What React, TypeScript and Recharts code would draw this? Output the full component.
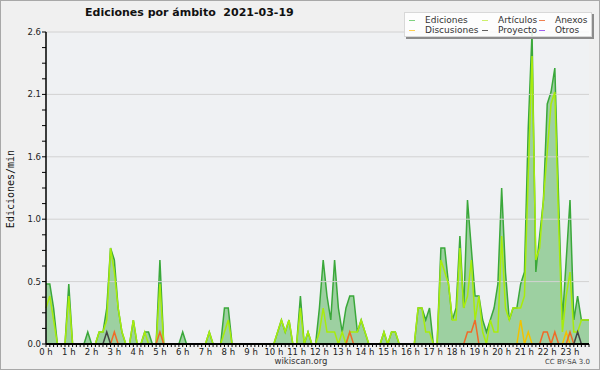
import React from 'react';
import { ComposedChart, Area, Line, XAxis, YAxis, ReferenceLine, CartesianGrid } from 'recharts';

// 10-minute slots, values in edits per minute
const hours = ['0', '1', '2', '3', '4', '5', '6', '7', '8', '9', '10', '11', '12', '13', '14', '15', '16', '17', '18', '19', '20', '21', '22', '23'];
const minutes = ['00', '10', '20', '30', '40', '50'];

const ediciones = [
  0.5, 0.5, 0.3, 0, 0, 0,
  0.5, 0, 0, 0, 0, 0.1,
  0, 0, 0.1, 0.1, 0.3, 0.8,
  0.7, 0.3, 0.1, 0, 0, 0.2,
  0, 0, 0.1, 0.1, 0, 0,
  0.7, 0, 0, 0, 0, 0,
  0.1, 0, 0, 0, 0, 0,
  0, 0.1, 0, 0, 0, 0.3,
  0.3, 0, 0, 0, 0, 0,
  0, 0, 0, 0, 0, 0,
  0, 0.1, 0.2, 0.1, 0.2, 0,
  0, 0.4, 0, 0.1, 0, 0,
  0.3, 0.7, 0.4, 0.2, 0.7, 0.3,
  0.1, 0.3, 0.4, 0.4, 0.1, 0.2,
  0.1, 0, 0, 0, 0, 0.1,
  0, 0.1, 0.1, 0, 0, 0,
  0, 0, 0.3, 0.3, 0.2, 0.3,
  0, 0, 0.8, 0.8, 0.5, 0.2,
  0.3, 0.9, 0.3, 1.2, 0.8, 0.4,
  0.4, 0.2, 0.1, 0.2, 0.3, 0.5,
  1.3, 0.6, 0.2, 0.3, 0.3, 0.5,
  0.6, 1.8, 2.6, 0.6, 0.9, 1.2,
  2.0, 2.1, 2.3, 1.2, 0.2, 0.7,
  1.2, 0.2, 0.4, 0.2, 0.2, 0.2,
];

const articulos = [
  0.3, 0.4, 0.2, 0, 0, 0,
  0.4, 0, 0, 0, 0, 0,
  0, 0, 0.1, 0.1, 0.2, 0.8,
  0.6, 0.3, 0.1, 0, 0, 0.2,
  0, 0, 0.1, 0, 0, 0,
  0.5, 0, 0, 0, 0, 0,
  0, 0, 0, 0, 0, 0,
  0, 0.1, 0, 0, 0, 0.1,
  0.2, 0, 0, 0, 0, 0,
  0, 0, 0, 0, 0, 0,
  0, 0.1, 0.2, 0.1, 0.2, 0,
  0, 0.3, 0, 0.1, 0, 0,
  0.1, 0.3, 0.1, 0.1, 0.1, 0,
  0.1, 0, 0.1, 0.1, 0.1, 0.2,
  0.1, 0, 0, 0, 0, 0.1,
  0, 0.1, 0.1, 0, 0, 0,
  0, 0, 0.3, 0.3, 0.1, 0.1,
  0, 0, 0.7, 0.6, 0.5, 0.2,
  0.2, 0.8, 0.3, 0.4, 0.7, 0.2,
  0.4, 0.1, 0, 0.2, 0.1, 0.1,
  0.9, 0.3, 0.2, 0.3, 0.3, 0.3,
  0.4, 1.4, 2.4, 0.7, 0.8, 1.2,
  1.6, 2.0, 2.1, 1.0, 0.1, 0.4,
  0.6, 0.1, 0.1, 0.2, 0.2, 0.2,
];

const anexos = [
  0, 0, 0, 0, 0, 0,
  0, 0, 0, 0, 0, 0,
  0, 0, 0, 0, 0, 0,
  0.1, 0, 0, 0, 0, 0,
  0, 0, 0, 0, 0, 0,
  0.1, 0, 0, 0, 0, 0,
  0, 0, 0, 0, 0, 0,
  0, 0, 0, 0, 0, 0,
  0, 0, 0, 0, 0, 0,
  0, 0, 0, 0, 0, 0,
  0, 0, 0, 0, 0, 0,
  0, 0, 0, 0, 0, 0,
  0, 0, 0, 0, 0, 0,
  0, 0, 0.1, 0, 0, 0,
  0, 0, 0, 0, 0, 0,
  0, 0, 0, 0, 0, 0,
  0, 0, 0, 0, 0, 0,
  0, 0, 0, 0, 0, 0,
  0, 0, 0, 0.1, 0.1, 0.2,
  0, 0, 0, 0, 0, 0,
  0, 0, 0, 0, 0, 0,
  0, 0, 0, 0, 0, 0.1,
  0.1, 0, 0.1, 0, 0, 0,
  0.1, 0, 0, 0, 0, 0,
];

const discusiones = [
  0, 0, 0, 0, 0, 0,
  0, 0, 0, 0, 0, 0,
  0, 0, 0, 0, 0, 0,
  0, 0, 0, 0, 0, 0,
  0, 0, 0, 0, 0, 0,
  0, 0, 0, 0, 0, 0,
  0, 0, 0, 0, 0, 0,
  0, 0, 0, 0, 0, 0,
  0, 0, 0, 0, 0, 0,
  0, 0, 0, 0, 0, 0,
  0, 0, 0, 0, 0, 0,
  0, 0, 0, 0, 0, 0,
  0, 0, 0, 0, 0, 0,
  0, 0, 0, 0, 0, 0,
  0, 0, 0, 0, 0, 0,
  0, 0, 0, 0, 0, 0,
  0, 0, 0, 0, 0, 0,
  0, 0, 0, 0, 0, 0,
  0, 0, 0, 0, 0, 0,
  0, 0, 0, 0, 0, 0,
  0, 0, 0, 0, 0, 0.2,
  0, 0.1, 0, 0, 0, 0,
  0, 0, 0, 0, 0, 0.1,
  0, 0, 0, 0, 0, 0,
];

const proyecto = [
  0, 0, 0, 0, 0, 0,
  0, 0, 0, 0, 0, 0,
  0, 0, 0, 0, 0.1, 0,
  0, 0, 0, 0, 0, 0,
  0, 0, 0, 0, 0, 0,
  0, 0, 0, 0, 0, 0,
  0, 0, 0, 0, 0, 0,
  0, 0, 0, 0, 0, 0,
  0, 0, 0, 0, 0, 0,
  0, 0, 0, 0, 0, 0,
  0, 0, 0, 0, 0, 0,
  0, 0, 0, 0, 0, 0,
  0, 0, 0, 0, 0, 0,
  0, 0, 0, 0, 0, 0,
  0, 0, 0, 0, 0, 0,
  0, 0, 0, 0, 0, 0,
  0, 0, 0, 0, 0, 0,
  0, 0, 0, 0, 0, 0,
  0, 0, 0, 0, 0, 0,
  0, 0, 0, 0, 0, 0,
  0, 0, 0, 0, 0, 0,
  0, 0, 0, 0, 0, 0,
  0, 0, 0, 0, 0, 0,
  0, 0, 0.1, 0, 0, 0,
];

const otros = new Array(144).fill(0);

const yMajor = [0, 0.52, 1.04, 1.56, 2.08, 2.6];
const yMinor = [0, 0.13, 0.26, 0.39, 0.52, 0.65, 0.78, 0.91, 1.04, 1.17, 1.3, 1.43, 1.56, 1.69, 1.82, 1.95, 2.08, 2.21, 2.34, 2.47, 2.6];

const series = [
  { key: 'articulos', name: 'Artículos', color: '#a8ec0c' },
  { key: 'discusiones', name: 'Discusiones', color: '#f2c200' },
  { key: 'anexos', name: 'Anexos', color: '#f06a28' },
  { key: 'proyecto', name: 'Proyecto', color: '#444444' },
  { key: 'otros', name: 'Otros', color: '#9040e0' },
];

const legendItems = [
  { name: 'Ediciones', color: '#7fd27f' },
  { name: 'Artículos', color: '#cdf06a' },
  { name: 'Anexos', color: '#f08050' },
  { name: 'Discusiones', color: '#ffd050' },
  { name: 'Proyecto', color: '#606060' },
  { name: 'Otros', color: '#a060f0' },
];

const data = hours.flatMap((h, hi) =>
  minutes.map((m, mi) => {
    const i = hi * 6 + mi;
    return {
      slot: `${h}:${m}`,
      ediciones: ediciones[i],
      articulos: articulos[i],
      anexos: anexos[i],
      discusiones: discusiones[i],
      proyecto: proyecto[i],
      otros: otros[i],
    };
  })
);

const FONT = '"DejaVu Sans", Verdana, sans-serif';

const XTick = (props: any) => {
  const { x, y, payload } = props;
  const [h, m] = String(payload.value).split(':');
  if (m !== '00') return null;
  return (
    <text x={x} y={y} dy={7} textAnchor="middle" fontSize={8.5} fontFamily={FONT} fill="#222">
      {`${h} h`}
    </text>
  );
};

const YTick = (props: any) => {
  const { x, y, payload } = props;
  if (!yMajor.includes(payload.value)) return null;
  return (
    <text x={x} y={y} dy={3} textAnchor="end" fontSize={8.5} fontFamily={FONT} fill="#222">
      {payload.value.toFixed(1)}
    </text>
  );
};

export default function App() {
  return (
    <div style={{ position: 'absolute', left: 0, top: 0, width: 600, height: 370, background: '#f0f0f0', fontFamily: FONT }}>
      <div style={{ position: 'absolute', left: 0, top: 0, width: 600, height: 370, boxSizing: 'border-box', border: '1px solid #a8a8a8' }} />
      <ComposedChart width={600} height={370} data={data} margin={{ top: 32, right: 11, left: 6, bottom: 6 }}>
        <CartesianGrid horizontal={false} vertical={false} fill="#eff1f3" />
        {yMajor.slice(1).map((v) => (
          <ReferenceLine key={v} y={v} stroke="#d2d2d2" strokeWidth={1} />
        ))}
        <Area
          type="linear"
          dataKey="ediciones"
          stroke="#3aa83a"
          strokeWidth={1.5}
          fill="#4caf50"
          fillOpacity={0.5}
          dot={false}
          activeDot={false}
          isAnimationActive={false}
        />
        {series.map((s) => (
          <Line
            key={s.key}
            type="linear"
            dataKey={s.key}
            stroke={s.color}
            strokeWidth={1.5}
            dot={false}
            activeDot={false}
            isAnimationActive={false}
          />
        ))}
        <XAxis
          dataKey="slot"
          scale="point"
          padding={{ left: 0, right: 0 }}
          interval={0}
          height={20}
          tickSize={3}
          tickMargin={1}
          tick={<XTick />}
          axisLine={{ stroke: '#000', strokeWidth: 2 }}
          tickLine={{ stroke: '#000' }}
        />
        <YAxis
          domain={[0, 2.6]}
          ticks={yMinor}
          width={40}
          tickSize={4}
          tickMargin={1}
          interval={0}
          tick={<YTick />}
          axisLine={{ stroke: '#000', strokeWidth: 1.5 }}
          tickLine={{ stroke: '#000' }}
        />
      </ComposedChart>

      <div style={{ position: 'absolute', left: 85, top: 6, fontSize: 11, fontWeight: 'bold', whiteSpace: 'pre', color: '#111' }}>
        {'Ediciones por ámbito  2021-03-19'}
      </div>
      <div
        style={{
          position: 'absolute',
          left: 10,
          top: 189,
          transform: 'translate(-50%, -50%) rotate(-90deg)',
          fontFamily: '"DejaVu Sans Mono", monospace',
          fontSize: 10,
          whiteSpace: 'nowrap',
          color: '#111',
        }}
      >
        Ediciones/min
      </div>
      <div style={{ position: 'absolute', left: 301, top: 361, transform: 'translate(-50%, -50%)', fontSize: 8.5, color: '#333' }}>
        wikiscan.org
      </div>
      <div style={{ position: 'absolute', right: 10, top: 362, transform: 'translateY(-50%)', fontSize: 7, color: '#444' }}>
        CC BY-SA 3.0
      </div>

      <div
        style={{
          position: 'absolute',
          left: 404,
          top: 12,
          width: 188,
          height: 25,
          boxSizing: 'border-box',
          background: 'rgba(255,255,255,0.82)',
          border: '1px solid #d8d8d8',
          boxShadow: '2px 2px 0 #8c8c8c',
        }}
      >
        {legendItems.map((it, idx) => {
          const col = idx % 3;
          const row = Math.floor(idx / 3);
          const colX = [4, 77, 134][col];
          return (
            <div key={it.name} style={{ position: 'absolute', left: colX, top: 2 + row * 10, height: 10, display: 'flex', alignItems: 'center' }}>
              <div style={{ width: 6, height: 1, background: it.color, marginRight: 10 }} />
              <span style={{ fontSize: 9, color: '#333', whiteSpace: 'nowrap', lineHeight: '10px' }}>{it.name}</span>
            </div>
          );
        })}
      </div>
    </div>
  );
}
